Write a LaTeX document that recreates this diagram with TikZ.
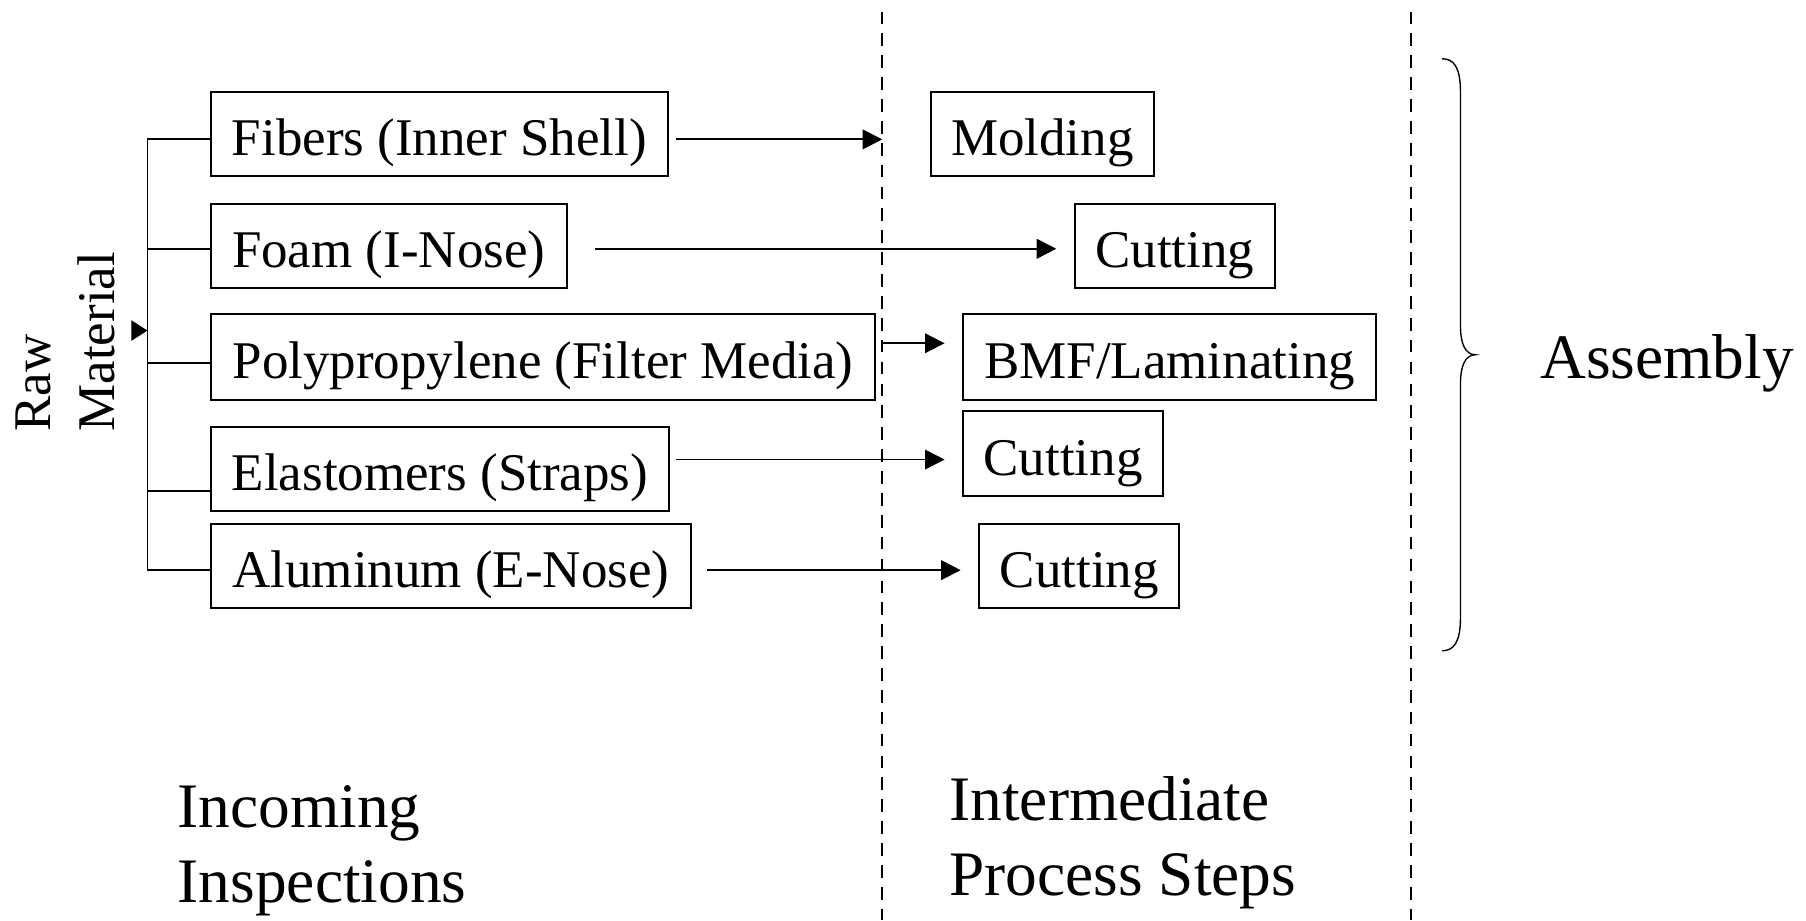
\documentclass[tikz,border=0pt]{standalone}
\usepackage{fontspec}
\setmainfont{Liberation Serif}
\usetikzlibrary{arrows.meta,calc}
\newcommand\bxfont{\fontsize{23}{27.6}\selectfont}
\newcommand\lblfont{\fontsize{27.5}{32.5}\selectfont}
\begin{document}
\begin{tikzpicture}[x=0.5pt,y=-0.5pt,
  box/.style={draw,line width=0.9pt,inner sep=0pt,minimum height=36.5pt,font=\bxfont,text height=20.7pt,text depth=2.2pt},
  ln/.style={line width=0.8pt},
  arr/.style={line width=0.8pt,-{Triangle[length=8.5pt,width=8.5pt]}},
  dl/.style={line width=0.7pt,dash pattern=on 5.5pt off 4pt},
  lbl/.style={font=\lblfont,inner sep=0pt,align=left}]
\useasboundingbox (0,0) rectangle (1568,799);
% incoming boxes
\node[box,minimum width=198.5pt] (fib) at (381.5,116.5) {Fibers (Inner Shell)};
\node[box,minimum width=154.5pt] (foam) at (337.5,213.5) {Foam (I-Nose)};
\node[box,minimum width=288.5pt,minimum height=37pt] (poly) at (471.5,310) {Polypropylene (Filter Media)};
\node[box,minimum width=199pt] (elast) at (382,407.5) {Elastomers (Straps)};
\node[box,minimum width=208.5pt] (alum) at (391.5,491.5) {Aluminum (E-Nose)};
% process boxes
\node[box,minimum width=97pt] (mold) at (905,116.5) {Molding};
\node[box,minimum width=87pt] (cut1) at (1020,213.5) {Cutting};
\node[box,minimum width=179.5pt,minimum height=37pt] (bmf) at (1015.5,310) {BMF/Laminating};
\node[box,minimum width=87pt,minimum height=37pt] (cut2) at (923,394) {Cutting};
\node[box,minimum width=87pt] (cut3) at (937,491.5) {Cutting};
% dashed separators
\coordinate (d1t) at (766,10);
\coordinate (d1b) at (766,799);
\coordinate (d2t) at (1225,10);
\coordinate (d2b) at (1225,799);
\draw[dl] (d1t) -- (d1b);
\draw[dl] (d2t) -- (d2b);
% raw material tree
\node[font=\bxfont,rotate=90,anchor=south west,align=left,inner sep=0pt] (raw) at (100,375) {Raw\\Material};
\coordinate (t1) at (128,121);
\coordinate (t2) at (128,216);
\coordinate (t3) at (128,315);
\coordinate (t4) at (128,426);
\coordinate (t5) at (128,495);
\draw[ln] (t1) -- (t5);
\draw[ln] (t1) -- (t1 -| fib.west);
\draw[ln] (t2) -- (t2 -| foam.west);
\draw[ln] (t3) -- (t3 -| poly.west);
\draw[ln] (t4) -- (t4 -| elast.west);
\draw[ln] (t5) -- (t5 -| alum.west);
\fill (114,278) -- (128,287) -- (114,296) -- cycle;
% arrows
\coordinate (a1) at ($(fib.east)+(6,4.5)$);
\draw[arr] (a1) -- (a1 -| d1t);
\coordinate (a2) at ($(foam.east)+(24,2.5)$);
\draw[arr] (a2) -- ($(a2 -| cut1.west)+(-15,0)$);
\coordinate (a3) at ($(poly.east)+(6,-12)$);
\draw[arr] (a3) -- ($(a3 -| bmf.west)+(-15,0)$);
\coordinate (a4) at ($(elast.east)+(5,-8.5)$);
\draw[arr] (a4) -- ($(a4 -| cut2.west)+(-15,0)$);
\coordinate (a5) at ($(alum.east)+(13,3.5)$);
\draw[arr] (a5) -- ($(a5 -| cut3.west)+(-15,0)$);
% brace
\draw[line width=0.6pt] (1252,51) .. controls (1262,51) and (1268,58) .. (1268,80) -- (1268,283)
  .. controls (1268,298) and (1272,308) .. (1281,308)
  .. controls (1272,308) and (1268,318) .. (1268,333) -- (1268,536)
  .. controls (1268,558) and (1262,565) .. (1252,565);
% labels
\node[lbl,anchor=base west] (asm) at (1337,329) {Assembly};
\node[lbl,anchor=north west] (inc) at (154,682) {Incoming\\Inspections};
\node[lbl,anchor=north west] (int) at (824,674) {Intermediate\\Process Steps};
\end{tikzpicture}
\end{document}
